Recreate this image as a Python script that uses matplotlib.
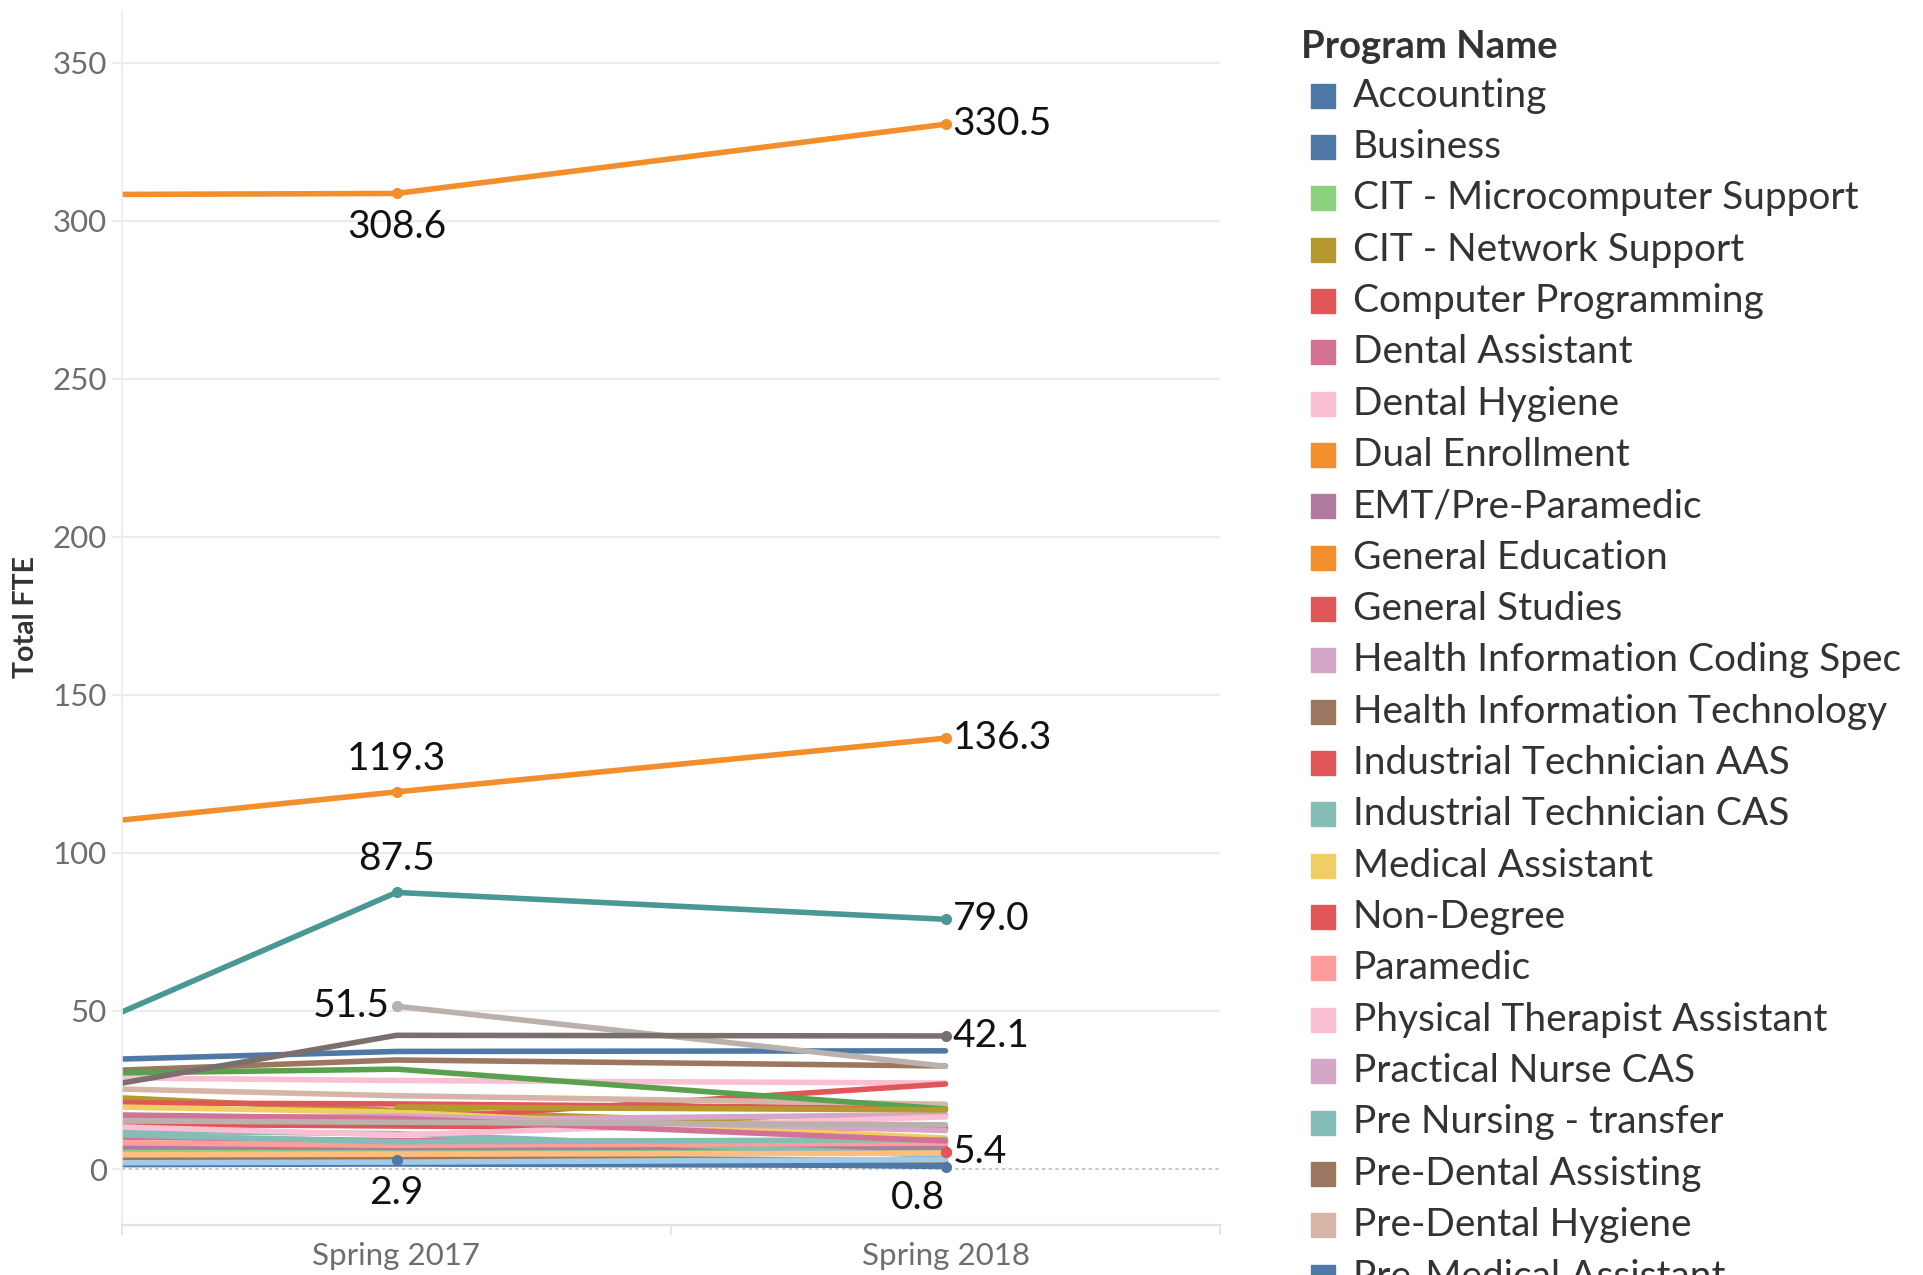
import numpy as np
import matplotlib
matplotlib.use('Agg')
import matplotlib.pyplot as plt
from matplotlib.patches import Rectangle

plt.rcParams['font.family'] = ['Lato', 'DejaVu Sans']

# periods: left edge of the view (previous term, clipped), Spring 2017, Spring 2018
periods = ['', 'Spring 2017', 'Spring 2018']
x_pos = [-0.5, 0, 1]

programs = [
    'Accounting', 'Business', 'CIT - Microcomputer Support', 'CIT - Network Support',
    'Computer Programming', 'Dental Assistant', 'Dental Hygiene', 'Dual Enrollment',
    'EMT/Pre-Paramedic', 'General Education', 'General Studies',
    'Health Information Coding Spec', 'Health Information Technology',
    'Industrial Technician AAS', 'Industrial Technician CAS', 'Medical Assistant',
    'Non-Degree', 'Paramedic', 'Physical Therapist Assistant', 'Practical Nurse CAS',
    'Pre Nursing - transfer', 'Pre-Dental Assisting', 'Pre-Dental Hygiene',
    'Pre-Medical Assistant', 'Pre-Nursing AAS', 'Pre-Occupational Therapy',
    'Pre-Pharmacy', 'Pre-Physical Therapy', 'Pre-Radiography',
    'Pre-Surgical Technology', 'Radiologic Technology', 'Registered Nursing',
    'Undeclared',
]

colors = [
    '#4E79A7', '#4E79A7', '#8CD17D', '#B6992D',
    '#E15759', '#D37295', '#FABFD2', '#F28E2B',
    '#B07AA1', '#F28E2B', '#E15759',
    '#D4A6C8', '#9D7660',
    '#E15759', '#86BCB6', '#F1CE63',
    '#E15759', '#FF9D9A', '#FABFD2', '#D4A6C8',
    '#86BCB6', '#9D7660', '#D7B5A6',
    '#4E79A7', '#499894', '#BAB0AC',
    '#59A14F', '#79706E', '#B6992D',
    '#D37295', '#BAB0AC', '#A0CBE8',
    '#FFBE7D',
]

nan = np.nan
fte_edge = [2.8, 34.8, 5.7, 22.5, 20.9, 10.1, 28.8, 308.3, 7.0, 110.4, nan,
            12.4, 31.3, 14.2, 12.0, 19.6, nan, 8.3, 13.3, 16.0, 10.8, 3.8, 25.3,
            1.4, 49.7, nan, 30.4, 27.2, nan, 17.1, 15.2, 2.0, 4.5]
fte_2017 = [2.9, 37.2, 6.0, 18.5, 20.6, 9.0, 28.0, 308.6, 6.8, 119.3, 15.6,
            15.5, 34.5, 13.6, 11.2, 18.0, nan, 7.5, 10.8, 16.8, 8.6, 4.0, 23.2,
            1.6, 87.5, 51.5, 31.6, 42.3, 19.6, 16.0, 14.8, 2.2, 4.7]
fte_2018 = [0.8, 37.4, 5.6, 13.0, 19.2, 8.6, 27.2, 330.5, 6.9, 136.3, 26.9,
            17.2, 32.6, 12.8, 4.2, 9.8, 5.4, 8.2, 16.5, 12.2, 9.3, 2.5, 20.5,
            1.1, 79.0, 32.5, 19.0, 42.1, 18.7, 8.9, 14.0, 3.0, 5.0]

# labelled marks: (program, period index, placement)
label_points = [
    ('Dual Enrollment', 1, 'below'), ('Dual Enrollment', 2, 'right'),
    ('General Education', 1, 'above'), ('General Education', 2, 'right'),
    ('Pre-Nursing AAS', 1, 'above'), ('Pre-Nursing AAS', 2, 'right'),
    ('Pre-Occupational Therapy', 1, 'left'), ('Pre-Physical Therapy', 2, 'right'),
    ('Accounting', 1, 'below'), ('Accounting', 2, 'below_left'),
    ('Non-Degree', 2, 'right'),
]

W, H = 1923, 1275
fig = plt.figure(figsize=(W / 100, H / 100), dpi=100)
ax = fig.add_axes([122 / W, 1 - 1225 / H, (1220 - 122) / W, (1225 - 12) / H])

grid_c = '#ebebeb'
for v in range(50, 351, 50):
    ax.axhline(v, color=grid_c, lw=1.6, zorder=0)
ax.axhline(0, color='#bdbdbd', lw=1.2, ls=(0, (2, 2)), zorder=0)

for i, name in enumerate(programs):
    ys = [fte_edge[i], fte_2017[i], fte_2018[i]]
    ax.plot(x_pos, ys, color=colors[i], lw=4.0, solid_capstyle='round',
            solid_joinstyle='round', zorder=2)
    if np.sum(~np.isnan(ys)) == 1:
        ax.plot(x_pos, ys, 'o', color=colors[i], ms=7, zorder=3)

offsets = {
    'below': ((0, -24), 'center', 'center'),
    'above': ((0, 24), 'center', 'center'),
    'right': ((5, 0), 'left', 'center'),
    'left': ((-5, 0), 'right', 'center'),
    'below_left': ((0, -23), 'right', 'center'),
}
for name, k, place in label_points:
    i = programs.index(name)
    v = [fte_edge, fte_2017, fte_2018][k][i]
    ax.plot(x_pos[k], v, 'o', color=colors[i], ms=7, zorder=3)
    off, ha, va = offsets[place]
    ax.annotate(f'{v:.1f}', (x_pos[k], v), xytext=off, textcoords='offset points',
                ha=ha, va=va, fontsize=28, color='#111111', zorder=4)

ax.set_xlim(-0.5, 1.5)
ax.set_ylim(-17.7, 366)

for s in ['top', 'right']:
    ax.spines[s].set_visible(False)
ax.spines['left'].set_color(grid_c)
ax.spines['bottom'].set_color('#e2e2e2')
ax.spines['left'].set_linewidth(1.2)
ax.spines['bottom'].set_linewidth(1.6)

ax.set_yticks(range(0, 351, 50))
ax.tick_params(axis='y', length=7, color=grid_c, width=1.4, pad=4,
               labelsize=22.5, labelcolor='#6e6e6e')
ax.set_xticks([-0.5, 0.5, 1.5])
ax.set_xticklabels([])
ax.tick_params(axis='x', which='major', length=7, color='#e2e2e2', width=1.2)
ax.set_xticks([0, 1], minor=True)
ax.set_xticklabels(periods[1:], minor=True)
ax.tick_params(axis='x', which='minor', length=0, pad=12,
               labelsize=22.5, labelcolor='#6e6e6e')

fig.text(26 / W, 1 - 617 / H, 'Total FTE', rotation=90, ha='center', va='center',
         fontsize=20.5, fontweight='bold', color='#333333')

# legend, drawn by hand so it runs off the bottom like the original
fig.text(1301 / W, 1 - 46.5 / H, 'Program Name', ha='left', va='center',
         fontsize=27.5, fontweight='bold', color='#333333')
for i, name in enumerate(programs):
    yc = 95.5 + i * 51.35
    if yc > H + 30:
        break
    fig.patches.append(Rectangle((1311 / W, 1 - (yc + 12) / H), 24 / W, 24 / H,
                                 transform=fig.transFigure, color=colors[i]))
    fig.text(1353 / W, 1 - yc / H, name, ha='left', va='center',
             fontsize=28, color='#333333')

fig.savefig('out.png', dpi=100)
